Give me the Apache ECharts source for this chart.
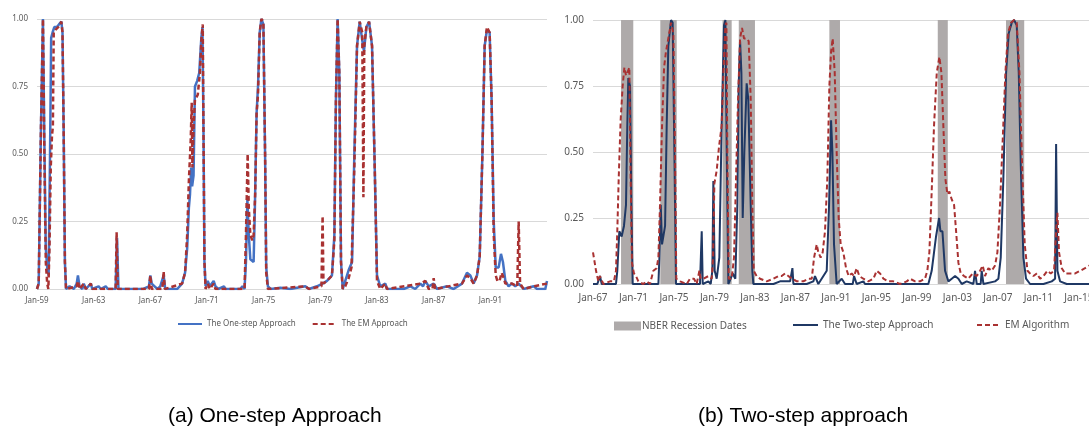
<!DOCTYPE html>
<html>
<head>
<meta charset="utf-8">
<script src="https://cdn.jsdelivr.net/npm/echarts@6/dist/echarts.min.js"></script>
<style>
  html, body { margin: 0; padding: 0; background: #fff; }
  #chart { width: 1089px; height: 428px; }
</style>
</head>
<body>
<div id="chart"></div>
<script>
'use strict';

// (a) one-step panel, x = fractional year
var oneStep = [
  [1959.00,0],[1959.12,0.02],[1959.28,0.6],[1959.42,1.0],[1959.52,0.55],[1959.62,0.15],[1959.72,0.08],
  [1959.82,0.05],[1959.92,0.5],[1960.00,0.93],[1960.10,0.95],[1960.22,0.97],[1960.40,0.97],[1960.55,0.98],
  [1960.72,0.99],[1960.80,0.95],[1960.88,0.6],[1960.97,0.1],[1961.05,0],[1961.30,0.01],[1961.60,0],
  [1961.80,0.02],[1961.89,0.05],[1962.00,0.01],[1962.20,0],[1962.30,0.02],[1962.45,0],[1962.80,0.02],
  [1962.90,0],[1963.35,0.01],[1963.50,0],[1963.85,0.01],[1964.00,0],[1964.55,0],[1964.65,0.19],[1964.75,0],
  [1966.50,0],[1966.90,0.01],[1967.00,0.05],[1967.10,0.02],[1967.30,0.01],[1967.50,0],[1967.70,0.01],
  [1967.94,0.05],[1968.05,0],[1968.90,0],[1969.24,0.02],[1969.45,0.06],[1969.60,0.15],[1969.72,0.3],
  [1969.80,0.35],[1969.88,0.45],[1969.95,0.38],[1970.05,0.42],[1970.15,0.75],[1970.30,0.77],[1970.45,0.8],
  [1970.60,0.93],[1970.68,0.97],[1970.75,0.6],[1970.82,0.1],[1970.90,0.01],[1971.05,0.03],[1971.20,0.01],
  [1971.47,0.03],[1971.60,0.01],[1971.80,0],[1972.20,0.01],[1972.30,0],[1973.35,0],[1973.50,0.01],
  [1973.65,0],[1973.75,0.1],[1973.85,0.33],[1973.95,0.2],[1974.06,0.11],[1974.29,0.1],[1974.38,0.3],
  [1974.50,0.65],[1974.60,0.75],[1974.72,0.95],[1974.84,1.0],[1974.98,0.98],[1975.10,0.5],[1975.18,0.08],
  [1975.30,0.01],[1975.50,0],[1976.18,0.005],[1976.88,0],[1977.94,0.01],[1978.20,0],[1978.76,0.01],
  [1979.16,0.02],[1979.47,0.03],[1979.82,0.05],[1979.99,0.2],[1980.10,0.7],[1980.22,1.0],[1980.34,0.8],
  [1980.46,0.1],[1980.58,0],[1980.76,0.03],[1981.00,0.07],[1981.24,0.1],[1981.40,0.5],[1981.59,0.9],
  [1981.78,0.99],[1981.96,0.92],[1982.08,0.88],[1982.25,0.97],[1982.44,0.99],[1982.65,0.9],[1982.84,0.45],
  [1983.00,0.05],[1983.23,0.01],[1983.59,0.02],[1983.70,0],[1984.88,0],[1985.35,0.01],[1985.70,0],
  [1986.06,0.02],[1986.25,0.01],[1986.41,0.03],[1986.65,0.01],[1987.00,0.02],[1987.24,0],[1987.94,0.01],
  [1988.41,0],[1989.00,0.02],[1989.35,0.06],[1989.59,0.05],[1989.82,0.02],[1990.06,0.05],[1990.25,0.12],
  [1990.44,0.5],[1990.60,0.9],[1990.76,0.96],[1990.95,0.95],[1991.09,0.7],[1991.24,0.25],[1991.38,0.08],
  [1991.59,0.08],[1991.75,0.13],[1991.89,0.1],[1992.06,0.03],[1992.29,0.01],[1992.53,0.02],[1992.76,0.01],
  [1993.00,0.02],[1993.35,0],[1994.06,0.01],[1994.30,0],[1994.88,0],[1995.00,0.03]
];

var emA = [
  [1959.00,0],[1959.12,0.02],[1959.28,0.6],[1959.42,1.0],[1959.52,0.5],[1959.62,0.1],[1959.72,0.02],
  [1959.80,0],[1959.88,0.15],[1959.97,0.45],[1960.06,0.57],[1960.12,0.6],[1960.18,0.95],[1960.30,0.96],
  [1960.50,0.97],[1960.72,0.99],[1960.80,0.95],[1960.88,0.6],[1960.97,0.1],[1961.05,0],[1961.80,0.01],
  [1961.89,0.03],[1962.00,0],[1962.30,0.02],[1962.45,0],[1962.80,0.02],[1962.90,0],[1964.55,0],
  [1964.62,0.21],[1964.70,0],[1966.90,0],[1967.00,0.05],[1967.10,0],[1967.85,0],[1967.94,0.065],
  [1968.02,0],[1969.24,0.02],[1969.45,0.06],[1969.60,0.2],[1969.72,0.4],[1969.85,0.55],[1969.92,0.69],
  [1969.97,0.45],[1970.05,0.6],[1970.15,0.7],[1970.35,0.72],[1970.50,0.8],[1970.60,0.92],[1970.70,0.98],
  [1970.75,0.6],[1970.82,0.1],[1970.90,0],[1971.05,0.02],[1971.20,0],[1971.47,0.02],[1971.60,0],
  [1973.65,0],[1973.75,0.2],[1973.87,0.5],[1973.95,0.3],[1974.06,0.2],[1974.20,0.18],[1974.29,0.2],
  [1974.40,0.35],[1974.50,0.65],[1974.60,0.72],[1974.72,0.95],[1974.84,1.0],[1974.98,0.99],[1975.10,0.5],
  [1975.18,0.06],[1975.30,0],[1977.94,0.01],[1978.20,0],[1979.08,0.01],[1979.16,0.27],[1979.22,0.02],
  [1979.47,0.03],[1979.82,0.05],[1979.99,0.18],[1980.10,0.7],[1980.22,1.0],[1980.34,0.8],[1980.46,0.1],
  [1980.58,0],[1980.76,0.01],[1981.00,0.04],[1981.20,0.08],[1981.40,0.45],[1981.59,0.9],[1981.78,0.99],
  [1981.96,0.95],[1982.04,0.34],[1982.10,0.9],[1982.25,0.97],[1982.44,0.99],[1982.65,0.9],[1982.84,0.45],
  [1983.00,0.03],[1983.23,0],[1983.59,0.02],[1983.70,0],[1986.06,0.02],[1986.41,0.03],[1986.65,0],
  [1986.92,0],[1987.00,0.04],[1987.10,0],[1989.00,0.02],[1989.35,0.05],[1989.59,0.04],[1989.82,0.02],
  [1990.06,0.05],[1990.25,0.12],[1990.44,0.5],[1990.60,0.9],[1990.76,0.97],[1990.95,0.95],[1991.09,0.7],
  [1991.24,0.2],[1991.38,0.05],[1991.50,0.03],[1991.65,0.03],[1991.80,0.06],[1991.95,0.04],[1992.06,0.02],
  [1992.53,0.02],[1992.90,0.01],[1993.00,0.25],[1993.10,0.02],[1993.35,0],[1994.06,0.01],[1995.00,0.02]
];

// (b) two-step panel
var twoStep = [
  [1967.00,0],[1967.43,0],[1967.69,0.03],[1967.86,0],[1969.27,0],[1969.40,0.05],[1969.60,0.2],
  [1969.83,0.18],[1970.06,0.22],[1970.26,0.3],[1970.39,0.6],[1970.49,0.78],[1970.66,0.75],[1970.79,0.3],
  [1970.92,0],[1973.46,0],[1973.56,0.1],[1973.69,0.3],[1973.82,0.15],[1973.95,0.15],[1974.12,0.22],
  [1974.28,0.6],[1974.44,0.9],[1974.71,1.0],[1974.87,0.99],[1975.04,0.5],[1975.20,0],[1977.57,0],
  [1977.74,0.2],[1977.84,0],[1978.40,0.01],[1978.63,0],[1978.79,0.05],[1978.89,0.39],[1979.02,0.05],
  [1979.22,0.02],[1979.48,0.1],[1979.71,0.6],[1979.94,0.98],[1980.08,1.0],[1980.21,0.5],[1980.37,0],
  [1980.60,0.02],[1980.80,0.04],[1981.06,0.02],[1981.26,0.3],[1981.39,0.75],[1981.53,0.92],[1981.66,0.8],
  [1981.79,0.25],[1981.95,0.5],[1982.18,0.76],[1982.34,0.7],[1982.58,0.3],[1982.74,0.05],[1982.84,0],
  [1984.82,0],[1985.48,0.01],[1986.47,0.01],[1986.63,0.01],[1986.70,0.06],[1986.80,0],[1988.11,0],
  [1988.77,0.01],[1988.93,0.03],[1989.26,0],[1990.09,0.05],[1990.32,0.3],[1990.52,0.62],[1990.65,0.5],
  [1990.81,0.15],[1991.07,0],[1991.57,0.02],[1991.90,0],[1992.66,0],[1992.79,0.03],[1993.05,0],
  [1993.71,0.01],[1993.87,0],[2000.13,0],[2000.46,0.05],[2000.69,0.12],[2000.89,0.18],[2001.19,0.25],
  [2001.32,0.2],[2001.52,0.2],[2001.78,0.05],[2002.11,0.01],[2002.44,0.02],[2002.77,0.03],[2003.10,0.02],
  [2003.43,0],[2003.92,0.01],[2004.58,0],[2004.74,0.05],[2004.91,0],[2005.30,0],[2005.40,0.05],
  [2005.57,0],[2006.72,0.01],[2007.05,0.02],[2007.28,0.1],[2007.54,0.4],[2007.81,0.8],[2008.07,0.95],
  [2008.37,0.99],[2008.60,1.0],[2008.86,0.98],[2009.06,0.8],[2009.26,0.45],[2009.52,0.1],[2009.78,0.02],
  [2010.18,0],[2011.50,0],[2012.32,0.01],[2012.65,0.02],[2012.75,0.53],[2012.88,0.05],[2013.14,0.01],
  [2013.80,0],[2016.00,0]
];

var emB = [
  [1967.00,0.12],[1967.30,0.05],[1967.53,0.01],[1967.69,0.03],[1968.02,0],[1968.68,0.01],[1969.07,0.01],
  [1969.27,0.05],[1969.40,0.2],[1969.54,0.4],[1969.73,0.62],[1969.93,0.75],[1970.10,0.82],[1970.26,0.79],
  [1970.39,0.8],[1970.59,0.82],[1970.72,0.4],[1970.85,0.08],[1971.05,0.04],[1971.25,0.03],[1971.48,0.01],
  [1971.97,0],[1972.30,0.01],[1972.63,0],[1972.96,0.05],[1973.29,0.06],[1973.46,0.1],[1973.62,0.3],
  [1973.82,0.6],[1974.02,0.82],[1974.21,0.88],[1974.44,0.93],[1974.71,0.99],[1974.94,0.95],[1975.10,0.5],
  [1975.23,0.02],[1975.60,0.01],[1976.26,0],[1976.58,0.02],[1976.98,0.02],[1977.24,0],[1977.51,0.05],
  [1977.64,0.02],[1977.90,0.02],[1978.40,0.03],[1978.73,0.02],[1978.86,0.1],[1978.99,0.38],[1979.22,0.43],
  [1979.45,0.52],[1979.71,0.6],[1979.88,0.8],[1980.08,0.98],[1980.18,0.99],[1980.27,0.5],[1980.41,0.02],
  [1980.70,0.02],[1980.93,0.1],[1981.13,0.4],[1981.33,0.7],[1981.53,0.93],[1981.72,0.97],[1981.92,0.93],
  [1982.18,0.93],[1982.38,0.92],[1982.58,0.7],[1982.74,0.3],[1982.88,0.05],[1983.17,0.03],[1983.50,0.02],
  [1984.16,0.01],[1984.82,0.02],[1985.31,0.03],[1985.64,0.03],[1985.97,0.04],[1986.30,0.03],[1986.70,0.02],
  [1987.13,0.01],[1987.78,0.01],[1988.28,0.02],[1988.61,0.02],[1988.84,0.1],[1989.10,0.15],[1989.26,0.12],
  [1989.49,0.1],[1989.69,0.12],[1989.92,0.2],[1990.15,0.4],[1990.35,0.75],[1990.52,0.88],[1990.68,0.93],
  [1990.88,0.8],[1991.07,0.5],[1991.27,0.25],[1991.47,0.15],[1991.73,0.12],[1992.00,0.06],[1992.26,0.03],
  [1992.56,0.04],[1992.79,0.03],[1993.05,0.06],[1993.31,0.03],[1993.71,0.02],[1994.20,0.01],[1994.70,0.02],
  [1995.03,0.05],[1995.36,0.04],[1995.69,0.02],[1996.18,0.01],[1996.67,0.01],[1997.33,0],[1997.99,0.01],
  [1998.32,0.02],[1998.82,0.01],[1999.31,0.01],[1999.80,0.02],[2000.03,0.05],[2000.23,0.12],[2000.46,0.35],
  [2000.69,0.6],[2000.96,0.8],[2001.22,0.86],[2001.42,0.8],[2001.61,0.6],[2001.81,0.4],[2002.01,0.34],
  [2002.21,0.35],[2002.44,0.32],[2002.67,0.3],[2002.87,0.2],[2003.10,0.08],[2003.33,0.04],[2003.66,0.03],
  [2004.08,0.02],[2004.51,0.04],[2004.91,0.03],[2005.24,0.05],[2005.50,0.07],[2005.73,0.03],[2006.06,0.06],
  [2006.39,0.05],[2006.72,0.07],[2006.95,0.12],[2007.21,0.3],[2007.48,0.55],[2007.74,0.8],[2008.00,0.95],
  [2008.30,0.99],[2008.60,1.0],[2008.86,0.99],[2009.13,0.8],[2009.39,0.45],[2009.65,0.15],[2009.92,0.05],
  [2010.18,0.04],[2010.51,0.03],[2010.84,0.04],[2011.17,0.02],[2011.50,0.03],[2011.89,0.05],[2012.22,0.04],
  [2012.55,0.05],[2012.75,0.2],[2012.88,0.27],[2013.04,0.12],[2013.31,0.06],[2013.64,0.04],[2014.13,0.04],
  [2014.63,0.04],[2015.12,0.05],[2015.61,0.06],[2016.00,0.07]
];

// NBER recession spans as drawn (fractional years)
var recessionStart = [1969.77, 1973.65, 1979.80, 1981.40, 1990.35, 2001.06, 2007.80];
var recessionEnd   = [1970.98, 1975.27, 1980.70, 1983.00, 1991.40, 2002.05, 2009.60];

var yTicks = [0, 0.25, 0.5, 0.75, 1];

var GRAY_TXT = '#595959';
var FONT = '"Noto Sans", sans-serif';

function janLabel(v) {
  return 'Jan-' + String(Math.round(v)).slice(2);
}

function makeX(idx, min, max, size, margin) {
  return {
    type: 'value', gridIndex: idx, min: min, max: max, interval: 4,
    axisLine: { show: false }, axisTick: { show: false }, splitLine: { show: false },
    axisLabel: { formatter: janLabel, color: GRAY_TXT, fontSize: size, fontFamily: FONT,
                 margin: margin, showMaxLabel: false }
  };
}

function makeY(idx, size) {
  return {
    type: 'value', gridIndex: idx, min: yTicks[0], max: yTicks[yTicks.length - 1],
    interval: yTicks[1] - yTicks[0],
    axisLine: { show: false }, axisTick: { show: false },
    splitLine: { lineStyle: { color: '#d9d9d9', width: 1 } },
    axisLabel: { formatter: function (v) { return v.toFixed(2); }, color: GRAY_TXT,
                 fontSize: size, fontFamily: FONT, margin: 9 }
  };
}

var recessionAreas = [];
for (var i = 0; i < recessionStart.length; i++) {
  recessionAreas.push([{ xAxis: recessionStart[i] }, { xAxis: recessionEnd[i] }]);
}

// line legends: hide the symbol dot, keep the (dashed) line
var lineLegend = {
  itemStyle: { opacity: 0 },
  textStyle: { color: GRAY_TXT, fontSize: 10, fontFamily: FONT }
};

var option = {
  animation: false,
  backgroundColor: '#fff',
  grid: [
    { left: 37, top: 19, width: 510, height: 270, outerBoundsMode: 'none' },
    { left: 593, top: 20, width: 496, height: 264, outerBoundsMode: 'none' }
  ],
  xAxis: [makeX(0, 1959, 1995, 8, 8), makeX(1, 1967, 2016, 10, 9)],
  yAxis: [makeY(0, 8), makeY(1, 10)],
  legend: [
    { data: ['The One-step Approach', 'The EM Approach'], left: 172, top: 315,
      itemWidth: 24, itemHeight: 10, itemGap: 16, itemStyle: { opacity: 0 },
      textStyle: { color: GRAY_TXT, fontSize: 8, fontFamily: FONT } },
    { data: [{ name: 'NBER Recession Dates', icon: 'rect' }], left: 609, top: 316,
      itemWidth: 27, itemHeight: 9, itemGap: 2,
      textStyle: { color: GRAY_TXT, fontSize: 10, fontFamily: FONT, padding: [0, 0, 0, -4] } },
    Object.assign({ data: ['The Two-step Approach'], left: 787, top: 315, itemWidth: 25, itemHeight: 10 }, lineLegend),
    Object.assign({ data: ['EM Algorithm'], left: 971, top: 315, itemWidth: 23, itemHeight: 10 }, lineLegend)
  ],
  graphic: [
    { type: 'text', left: 168, top: 406,
      style: { text: '(a) One-step Approach', font: '21px "Liberation Sans", Arial, sans-serif', fill: '#000' } },
    { type: 'text', left: 698, top: 406,
      style: { text: '(b) Two-step approach', font: '21px "Liberation Sans", Arial, sans-serif', fill: '#000' } }
  ],
  series: [
    {
      name: 'The One-step Approach', type: 'line', xAxisIndex: 0, yAxisIndex: 0,
      data: oneStep, showSymbol: false, symbol: 'none', z: 2,
      itemStyle: { color: '#4472c4' },
      lineStyle: { color: '#4472c4', width: 2.5 }
    },
    {
      name: 'The EM Approach', type: 'line', xAxisIndex: 0, yAxisIndex: 0,
      data: emA, showSymbol: false, symbol: 'none', z: 3,
      itemStyle: { color: '#a93232' },
      lineStyle: { color: '#a93232', width: 2.5, type: [5, 3] }
    },
    {
      name: 'NBER Recession Dates', type: 'line', xAxisIndex: 1, yAxisIndex: 1,
      data: [], z: 1,
      itemStyle: { color: '#aeaaaa' },
      lineStyle: { color: '#aeaaaa' },
      markArea: { silent: true, itemStyle: { color: '#aeaaaa', opacity: 1 }, data: recessionAreas }
    },
    {
      name: 'The Two-step Approach', type: 'line', xAxisIndex: 1, yAxisIndex: 1,
      data: twoStep, showSymbol: false, symbol: 'none', z: 2,
      itemStyle: { color: '#1f3864' },
      lineStyle: { color: '#1f3864', width: 2 }
    },
    {
      name: 'EM Algorithm', type: 'line', xAxisIndex: 1, yAxisIndex: 1,
      data: emB, showSymbol: false, symbol: 'none', z: 3,
      itemStyle: { color: '#a93232' },
      lineStyle: { color: '#a93232', width: 2, type: [5, 3] }
    }
  ]
};

var echart = echarts.init(document.getElementById('chart'));
echart.setOption(option);
</script>
</body>
</html>
